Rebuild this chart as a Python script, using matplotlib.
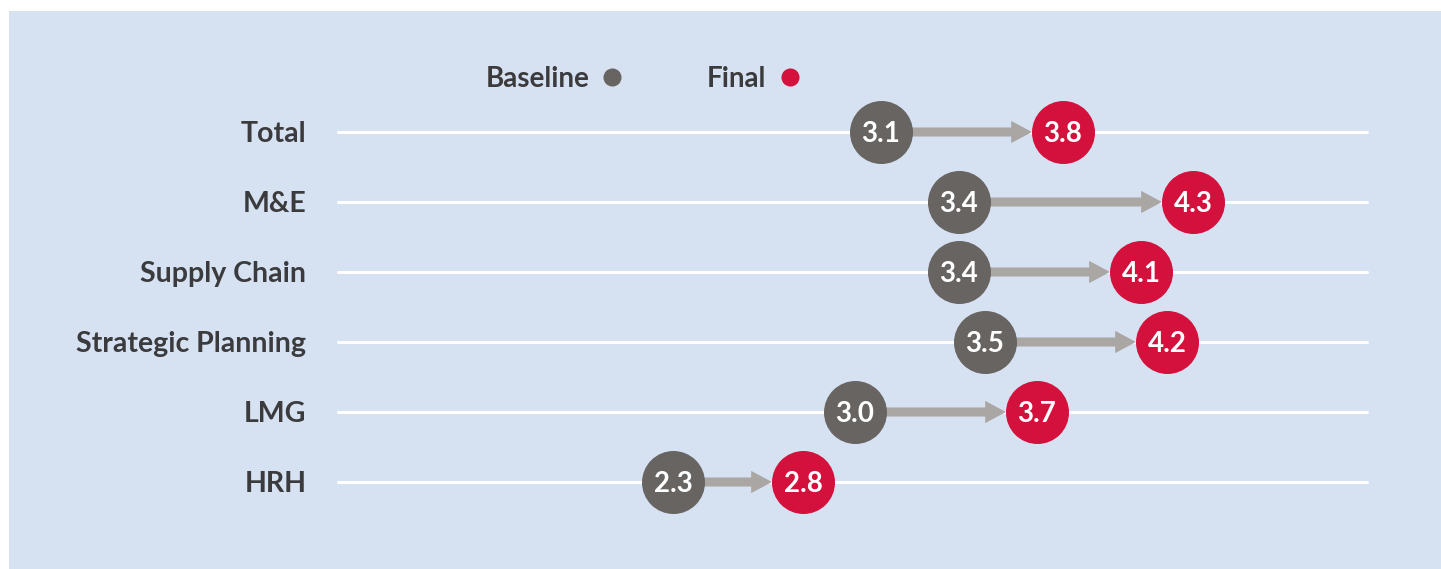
import matplotlib
matplotlib.use("Agg")
import matplotlib.pyplot as plt
from matplotlib.patches import FancyArrowPatch, ArrowStyle

plt.rcParams["font.family"] = ["Lato", "DejaVu Sans"]

categories = ["Total", "M&E", "Supply Chain", "Strategic Planning", "LMG", "HRH"]
baseline = [3.1, 3.4, 3.4, 3.5, 3.0, 2.3]
final = [3.8, 4.3, 4.1, 4.2, 3.7, 2.8]
legend_labels = ["Baseline", "Final"]

BG = "#d6e1f2"
GREY = "#676462"
RED = "#d3113c"
ARROW = "#aaa6a4"
TEXT = "#3b3b3d"

W, H = 1441, 569
fig = plt.figure(figsize=(W / 100, H / 100), dpi=100, facecolor="white")
ax = fig.add_axes([9 / W, 0, (W - 9) / W, (H - 11) / H])
ax.set_facecolor(BG)
for s in ax.spines.values():
    s.set_visible(False)
ax.set_xticks([])
ax.set_yticks([])

# value axis: 260 px per unit, value 0 at x=75 px; rows 70 px apart
px_per_unit = 260.0
ax.set_xlim((9 - 75) / px_per_unit, (W - 75) / px_per_unit)
ax.set_ylim((H - 132) / 70.0, (11 - 132) / 70.0)

radius = 31 / px_per_unit
marker_size = 63 * 0.72
text_dy = 2 / 70.0

for i, (cat, b, f) in enumerate(zip(categories, baseline, final)):
    # white guide line
    ax.plot([1.01, 4.97], [i, i], color="white", lw=2.2, solid_capstyle="round", zorder=1)
    # row label
    ax.text(0.89, i + text_dy, cat, ha="right", va="center", fontsize=20.5,
            fontweight="bold", color=TEXT, zorder=5)
    # arrow from baseline to final
    arr = FancyArrowPatch((b, i), (f - radius, i),
                          arrowstyle=ArrowStyle.Simple(head_length=15, head_width=16,
                                                       tail_width=6.5),
                          mutation_scale=1, shrinkA=0, shrinkB=0,
                          color=ARROW, lw=0, zorder=2)
    ax.add_patch(arr)
    # circles
    ax.plot([b], [i], "o", ms=marker_size, color=GREY, mec="none", zorder=3)
    ax.plot([f], [i], "o", ms=marker_size, color=RED, mec="none", zorder=3)
    ax.text(b, i + text_dy, f"{b:.1f}", ha="center", va="center", fontsize=20,
            fontweight="bold", color="white", zorder=4)
    ax.text(f, i + text_dy, f"{f:.1f}", ha="center", va="center", fontsize=20,
            fontweight="bold", color="white", zorder=4)

# legend drawn as text with colored dots
leg_y = (77 - 132) / 70.0
ax.text((590 - 75) / px_per_unit, leg_y + text_dy, legend_labels[0], ha="right",
        va="center", fontsize=20, fontweight="bold", color=TEXT)
ax.plot([(612 - 75) / px_per_unit], [leg_y], "o", ms=13, color=GREY, mec="none")
ax.text((766 - 75) / px_per_unit, leg_y + text_dy, legend_labels[1], ha="right",
        va="center", fontsize=20, fontweight="bold", color=TEXT)
ax.plot([(790 - 75) / px_per_unit], [leg_y], "o", ms=13, color=RED, mec="none")

fig.savefig("out.png", dpi=100, facecolor="white")
